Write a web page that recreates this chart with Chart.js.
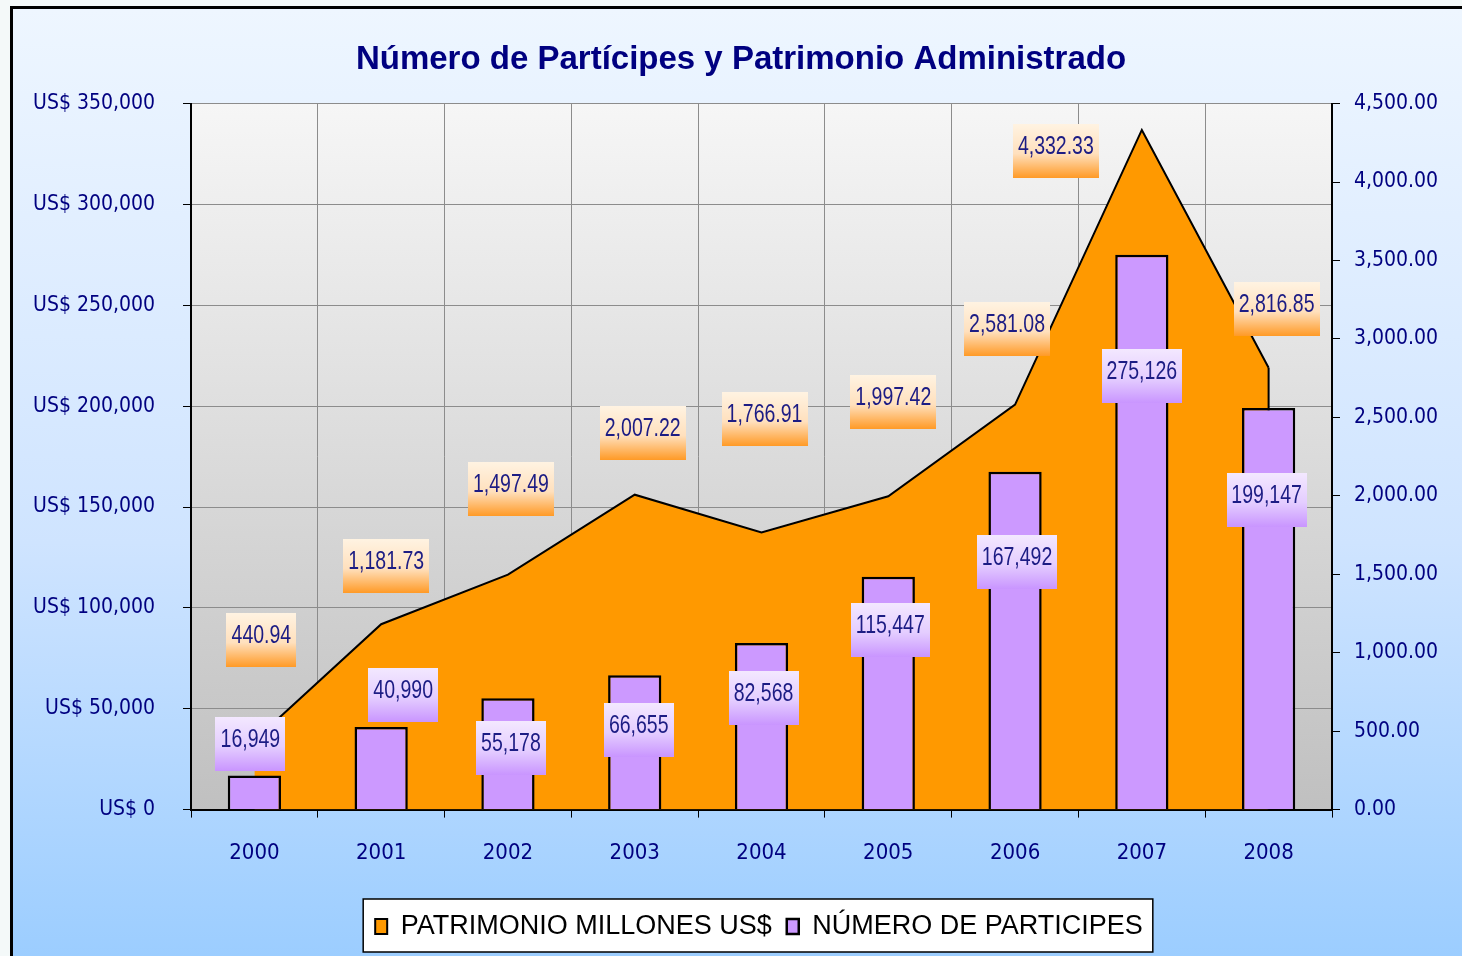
<!DOCTYPE html>
<html>
<head>
<meta charset="utf-8">
<script src="https://cdn.jsdelivr.net/npm/chart.js@4/dist/chart.umd.min.js"></script>
<style>
  html, body { margin:0; padding:0; width:1462px; height:956px; overflow:hidden; background:#f4f9f9; }
  #frame { position:absolute; left:10px; top:6px; width:1470px; height:970px;
    border-left:3px solid #000; border-top:3px solid #000;
    background:linear-gradient(to bottom, #eef6ff 0%, #cfe4ff 55%, #99ccff 100%); }
  #c { position:absolute; left:0; top:0; }
</style>
</head>
<body>
<div id="frame"></div>
<canvas id="c" width="1462" height="956"></canvas>
<script>
// datos
const years = ["2000","2001","2002","2003","2004","2005","2006","2007","2008"];
const patrimonio = [440.94, 1181.73, 1497.49, 2007.22, 1766.91, 1997.42, 2581.08, 4332.33, 2816.85];
const participes = [16949, 40990, 55178, 66655, 82568, 115447, 167492, 275126, 199147];

// desplazamiento de las etiquetas respecto al punto (px), movidas a mano como en el original
const patLabelShift = [[7,-100],[5,-58],[3,-86],[8,-62],[3,-113],[5,-94],[-8,-76],[-86,21],[8,-59]];
const partLabelShift = [[-4,-31],[22,-32],[3,50],[4,55],[2,55],[2,53],[2,90],[0,121],[-2,92]];

const NAVY = '#000080';
const NARROW = "'DejaVu Sans Condensed', 'Liberation Sans', sans-serif";
const ARIAL = "'Liberation Sans', Arial, sans-serif";

const fmtPat = v => v.toLocaleString('en-US', {minimumFractionDigits:2, maximumFractionDigits:2});
const fmtPart = v => v.toLocaleString('en-US');

// fondo del area de trazado + recuadro de la leyenda
const bgPlugin = {
  id: 'bgPlugin',
  afterLayout(chart) {
    // la leyenda del original esta algo corrida a la derecha
    const lg = chart.legend;
    lg.left += 18; lg.right += 18;
  },
  beforeDraw(chart) {
    const {ctx, chartArea:a} = chart;
    ctx.save();
    let g = ctx.createLinearGradient(0, a.top, 0, a.bottom);
    g.addColorStop(0, '#f6f6f6');
    g.addColorStop(1, '#c0c0c0');
    ctx.fillStyle = g;
    ctx.fillRect(a.left, a.top, a.right - a.left, a.bottom - a.top);

    let boxes = chart.legend.legendHitBoxes || [];
    if (boxes.length) {
      let l = Math.min(...boxes.map(b=>b.left)), r = Math.max(...boxes.map(b=>b.left+b.width));
      let t = Math.min(...boxes.map(b=>b.top)), bt = Math.max(...boxes.map(b=>b.top+b.height));
      ctx.fillStyle = '#fff';
      ctx.strokeStyle = '#000';
      ctx.lineWidth = 1.5;
      ctx.fillRect(l-12, t-14, r-l+22, bt-t+26);
      ctx.strokeRect(l-12, t-14, r-l+22, bt-t+26);
    }
    ctx.restore();
  }
};

// linea vertical final del area (Excel la cierra hasta el eje)
const areaEdge = {
  id: 'areaEdge',
  afterDatasetDraw(chart, args) {
    if (args.index !== 0) return;
    const meta = chart.getDatasetMeta(0);
    const last = meta.data[meta.data.length-1];
    const base = chart.scales.yR.getPixelForValue(0);
    const ctx = chart.ctx;
    ctx.save();
    ctx.strokeStyle = '#000'; ctx.lineWidth = 2;
    ctx.beginPath(); ctx.moveTo(last.x, last.y); ctx.lineTo(last.x, base); ctx.stroke();
    ctx.restore();
  }
};

// etiquetas de datos con fondo degradado (texto estrechado como Arial Narrow)
const valueLabels = {
  id: 'valueLabels',
  afterDatasetsDraw(chart) {
    const ctx = chart.ctx;
    const squeeze = 0.78;
    const sets = [
      {idx:0, vals:patrimonio, shift:patLabelShift, fmt:fmtPat, stops:['#fff3e2','#ffe0bd','#ff9a26']},
      {idx:1, vals:participes, shift:partLabelShift, fmt:fmtPart, stops:['#f3e8ff','#e4cdff','#c995ff']}
    ];
    ctx.save();
    ctx.font = "25px " + ARIAL;
    ctx.textAlign = 'center';
    ctx.textBaseline = 'middle';
    sets.forEach(s=>{
      const meta = chart.getDatasetMeta(s.idx);
      meta.data.forEach((el,i)=>{
        const txt = s.fmt(s.vals[i]);
        const tw = ctx.measureText(txt).width * squeeze;
        const w = Math.round(tw + 10), h = 54;
        const cx = el.x + s.shift[i][0], cy = el.y + s.shift[i][1];
        const x0 = Math.round(cx - w/2), y0 = Math.round(cy - h/2);
        let g = ctx.createLinearGradient(0, y0, 0, y0+h);
        g.addColorStop(0, s.stops[0]);
        g.addColorStop(0.55, s.stops[1]);
        g.addColorStop(1, s.stops[2]);
        ctx.fillStyle = g;
        ctx.fillRect(x0, y0, w, h);
        ctx.fillStyle = '#1c1c84';
        ctx.save();
        ctx.translate(cx, cy - 4);
        ctx.scale(squeeze, 1);
        ctx.fillText(txt, 0, 0);
        ctx.restore();
      });
    });
    ctx.restore();
  }
};

new Chart(document.getElementById('c'), {
  type: 'bar',
  data: {
    labels: years,
    datasets: [
      {
        type: 'line',
        label: 'PATRIMONIO MILLONES US$',
        data: patrimonio,
        yAxisID: 'yR',
        borderColor: '#000',
        borderWidth: 2,
        backgroundColor: '#ff9900',
        fill: 'origin',
        pointRadius: 0,
        tension: 0,
        order: 2
      },
      {
        type: 'bar',
        label: 'NÚMERO DE PARTICIPES',
        data: participes,
        yAxisID: 'yL',
        backgroundColor: '#cc99ff',
        borderColor: '#000',
        borderWidth: 2.5,
        barPercentage: 0.42,
        categoryPercentage: 1,
        order: 1
      }
    ]
  },
  options: {
    responsive: false,
    animation: false,
    devicePixelRatio: 1,
    layout: { padding: { left: 20, right: 0, top: 0, bottom: 6 } },
    plugins: {
      tooltip: { enabled: false },
      title: {
        display: true,
        text: 'Número de Partícipes y Patrimonio Administrado',
        color: NAVY,
        font: { family: ARIAL, size: 33, weight: 'bold' },
        padding: { top: 40, bottom: 24 }
      },
      legend: {
        position: 'bottom',
        labels: {
          color: '#000',
          font: { family: ARIAL, size: 27 },
          boxWidth: 12,
          boxHeight: 15,
          padding: 15,
          sort: (a, b) => a.datasetIndex - b.datasetIndex
        }
      }
    },
    scales: {
      x: {
        offset: true,
        afterFit: s => { s.height += 10; },
        grid: { color: '#8c8c8c', tickColor: '#000', tickLength: 8, offset: true },
        border: { color: '#000', width: 2 },
        ticks: { color: NAVY, font: { family: NARROW, size: 22 }, padding: 22 }
      },
      yL: {
        position: 'left',
        min: 0, max: 350000,
        afterFit: s => { s.width = 171; },
        grid: { color: '#8c8c8c', tickColor: '#000', tickLength: 8 },
        border: { color: '#000', width: 2 },
        ticks: { stepSize: 50000, color: NAVY, font: { family: NARROW, size: 21 }, padding: 28,
          callback: v => 'US$ ' + fmtPart(v) }
      },
      yR: {
        position: 'right',
        min: 0, max: 4500,
        afterFit: s => { s.width = 130; },
        grid: { drawOnChartArea: false, tickColor: '#000', tickLength: 8 },
        border: { color: '#000', width: 2 },
        ticks: { stepSize: 500, color: NAVY, font: { family: NARROW, size: 21 }, padding: 14,
          callback: v => fmtPat(v) }
      }
    }
  },
  plugins: [bgPlugin, areaEdge, valueLabels]
});
</script>
</body>
</html>
